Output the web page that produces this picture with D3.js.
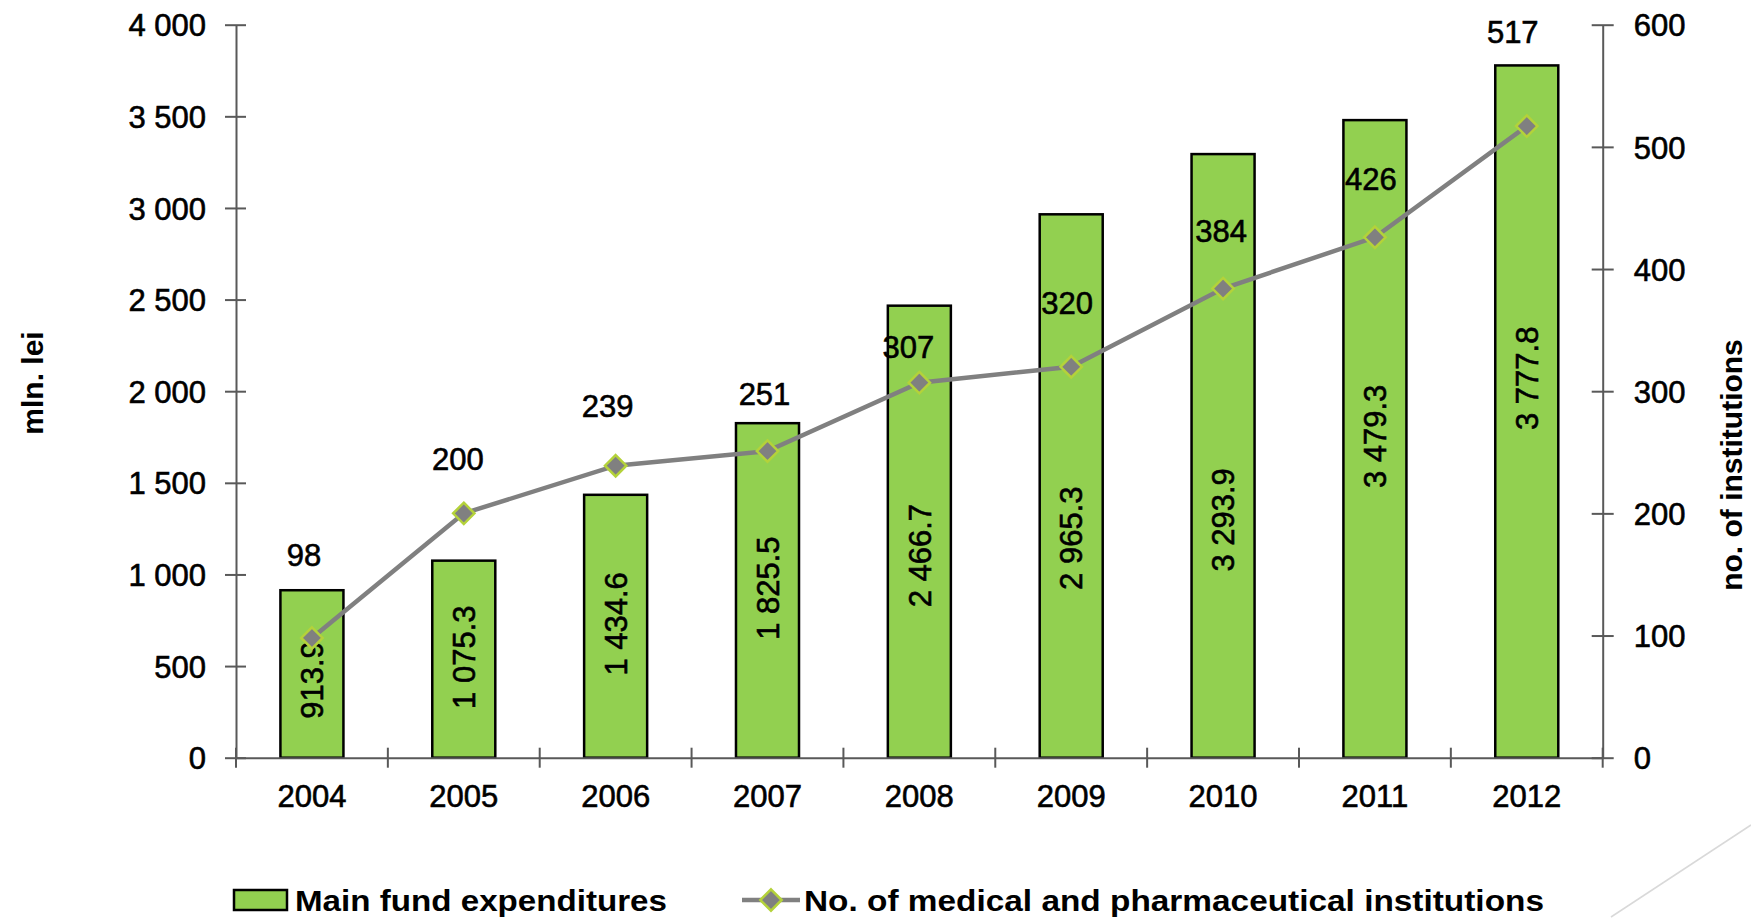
<!DOCTYPE html>
<html>
<head>
<meta charset="utf-8">
<script src="https://cdn.jsdelivr.net/npm/d3@7/dist/d3.min.js"></script>
<style>
  body { margin: 0; background: #fff; }
  svg { display: block; }
  text { font-family: "Liberation Sans", Arial, sans-serif; fill: #000; }
  .heavy { stroke: #000; stroke-width: 0.6px; }
</style>
</head>
<body>
<div id="chart"></div>
<script>
// data
var years = ['2004', '2005', '2006', '2007', '2008', '2009', '2010', '2011', '2012'];
var expenditures = [913.9, 1075.3, 1434.6, 1825.5, 2466.7, 2965.3, 3293.9, 3479.3, 3777.8];
var institutions = [98, 200, 239, 251, 307, 320, 384, 426, 517];
var leftTicks = [0, 500, 1000, 1500, 2000, 2500, 3000, 3500, 4000];
var rightTicks = [0, 100, 200, 300, 400, 500, 600];
var barName = 'Main fund expenditures';
var lineName = 'No. of medical and pharmaceutical institutions';

(function(){
    var W = 1751, H = 918;
    var margin = { top: 24.7, right: 148.3, bottom: 160.3, left: 236 };
    var width = W - margin.left - margin.right;
    var height = H - margin.top - margin.bottom;

    var green = '#92d050', grey = '#808080', axisCol = '#595959';
    var fontSize = 31;

    // label placement (manual in the original slide)
    var barLabelShare = [0.464, 0.51, 0.509, 0.507, 0.447, 0.404, 0.394, 0.504, 0.548];
    var lineLabelDy = [-83, -55, -60, -57, -36, -64, -58, -58, -94];
    var lineLabelDx = [-8, -6, -8, -3, -11, -4, -2, -4, -14];

    var root = d3.select('#chart').append('svg')
        .attr('width', W).attr('height', H);

    var svg = root.append('g')
        .attr('transform', 'translate(' + margin.left + ',' + margin.top + ')');

    var pad = 0.585;
    var x = d3.scaleBand().domain(years).range([0, width])
        .paddingInner(pad).paddingOuter(pad / 2);
    var y = d3.scaleLinear().domain([0, 4000]).range([height, 0]);
    var y2 = d3.scaleLinear().domain([0, 600]).range([height, 0]);
    var fmt = function(d){ return d3.format(',')(d).replace(/,/g, ' '); };
    var fmt1 = function(d){ return d3.format(',.1f')(d).replace(/,/g, ' '); };

    // bars
    svg.selectAll('rect.bar')
        .data(expenditures)
        .enter().append('rect')
        .attr('class', 'bar')
        .attr('x', function(d, i){ return x(years[i]); })
        .attr('y', function(d){ return y(d); })
        .attr('width', x.bandwidth())
        .attr('height', function(d){ return height - y(d); })
        .attr('fill', green)
        .attr('stroke', '#000')
        .attr('stroke-width', 2.5);

    // left axis
    var yAxisG = svg.append('g')
        .call(d3.axisLeft(y).tickValues(leftTicks).tickFormat(fmt).tickSizeOuter(0).tickSizeInner(11).tickPadding(19));
    yAxisG.select('.domain').attr('stroke', axisCol).attr('stroke-width', 2);
    yAxisG.selectAll('.tick line').attr('x1', 10).attr('stroke', axisCol).attr('stroke-width', 2);
    yAxisG.selectAll('.tick text').attr('class', 'heavy').attr('font-size', fontSize).attr('font-family', null).attr('dy', '0.36em');

    // right axis
    var y2AxisG = svg.append('g')
        .attr('transform', 'translate(' + width + ',0)')
        .call(d3.axisRight(y2).tickValues(rightTicks).tickSizeOuter(0).tickSizeInner(11).tickPadding(20));
    y2AxisG.select('.domain').attr('stroke', axisCol).attr('stroke-width', 2);
    y2AxisG.selectAll('.tick line').attr('x1', -11).attr('stroke', axisCol).attr('stroke-width', 2);
    y2AxisG.selectAll('.tick text').attr('class', 'heavy').attr('font-size', fontSize).attr('font-family', null).attr('dy', '0.36em');

    // bottom axis: labels centred, tick marks at category boundaries
    var xAxisG = svg.append('g')
        .attr('transform', 'translate(0,' + height + ')')
        .call(d3.axisBottom(x).tickSize(0).tickPadding(27).tickSizeOuter(0));
    xAxisG.select('.domain').attr('stroke', axisCol).attr('stroke-width', 2);
    xAxisG.selectAll('.tick text').attr('class', 'heavy').attr('font-size', fontSize).attr('font-family', null);
    var step = x.step();
    var bounds = d3.range(years.length + 1).map(function(i){ return i * step; });
    xAxisG.selectAll('line.bound')
        .data(bounds)
        .enter().append('line')
        .attr('class', 'bound')
        .attr('x1', function(d){ return d; }).attr('x2', function(d){ return d; })
        .attr('y1', -10).attr('y2', 10)
        .attr('stroke', axisCol).attr('stroke-width', 2);

    // bar value labels (rotated)
    svg.selectAll('text.barlab')
        .data(expenditures)
        .enter().append('text')
        .attr('class', 'barlab heavy')
        .attr('transform', function(d, i){
            var cx = x(years[i]) + x.bandwidth() / 2;
            var cy = y(d * barLabelShare[i]);
            return 'translate(' + cx + ',' + cy + ') rotate(-90)';
        })
        .attr('text-anchor', 'middle')
        .attr('dy', '0.36em')
        .attr('font-size', fontSize)
        .text(fmt1);

    // line series
    var line = d3.line()
        .x(function(d, i){ return x(years[i]) + x.bandwidth() / 2; })
        .y(function(d){ return y2(d); });

    svg.append('path')
        .datum(institutions)
        .attr('fill', 'none')
        .attr('stroke', grey)
        .attr('stroke-width', 4.5)
        .attr('d', line);

    var diamond = d3.symbol().type(d3.symbolDiamond2).size(290);
    svg.selectAll('path.mark')
        .data(institutions)
        .enter().append('path')
        .attr('class', 'mark')
        .attr('d', diamond)
        .attr('transform', function(d, i){
            return 'translate(' + (x(years[i]) + x.bandwidth() / 2) + ',' + y2(d) + ')';
        })
        .attr('fill', grey)
        .attr('stroke', '#b4d23a')
        .attr('stroke-width', 2.5);

    svg.selectAll('text.linelab')
        .data(institutions)
        .enter().append('text')
        .attr('class', 'linelab heavy')
        .attr('x', function(d, i){ return x(years[i]) + x.bandwidth() / 2 + lineLabelDx[i]; })
        .attr('y', function(d, i){ return y2(d) + lineLabelDy[i]; })
        .attr('dy', '0.36em')
        .attr('text-anchor', 'middle')
        .attr('font-size', fontSize)
        .text(function(d){ return d; });

    // axis titles
    root.append('text')
        .attr('transform', 'translate(43,383) rotate(-90)')
        .attr('text-anchor', 'middle')
        .attr('font-size', 30)
        .attr('font-weight', 'bold')
        .text('mln. lei');

    root.append('text')
        .attr('transform', 'translate(1742,465) rotate(-90)')
        .attr('text-anchor', 'middle')
        .attr('font-size', 30)
        .attr('font-weight', 'bold')
        .text('no. of institutions');

    // legend
    var lg = root.append('g').attr('transform', 'translate(0,900)');
    lg.append('rect')
        .attr('x', 234).attr('y', -10).attr('width', 53).attr('height', 20)
        .attr('fill', green).attr('stroke', '#000').attr('stroke-width', 2.5);
    lg.append('text')
        .attr('x', 295).attr('dy', '0.36em')
        .attr('font-size', 30).attr('font-weight', 'bold')
        .attr('textLength', 372).attr('lengthAdjust', 'spacingAndGlyphs')
        .text(barName);
    lg.append('line')
        .attr('x1', 742).attr('x2', 800).attr('y1', 0).attr('y2', 0)
        .attr('stroke', grey).attr('stroke-width', 4.5);
    lg.append('path')
        .attr('d', diamond)
        .attr('transform', 'translate(771,0)')
        .attr('fill', grey).attr('stroke', '#b4d23a').attr('stroke-width', 2.5);
    lg.append('text')
        .attr('x', 804).attr('dy', '0.36em')
        .attr('font-size', 30).attr('font-weight', 'bold')
        .attr('textLength', 740).attr('lengthAdjust', 'spacingAndGlyphs')
        .text(lineName);

    // slide decoration in the corner
    root.append('line')
        .attr('x1', 1611).attr('y1', 917).attr('x2', 1751).attr('y2', 825)
        .attr('stroke', '#d9d9d9').attr('stroke-width', 1.5);
})();
</script>
</body>
</html>
